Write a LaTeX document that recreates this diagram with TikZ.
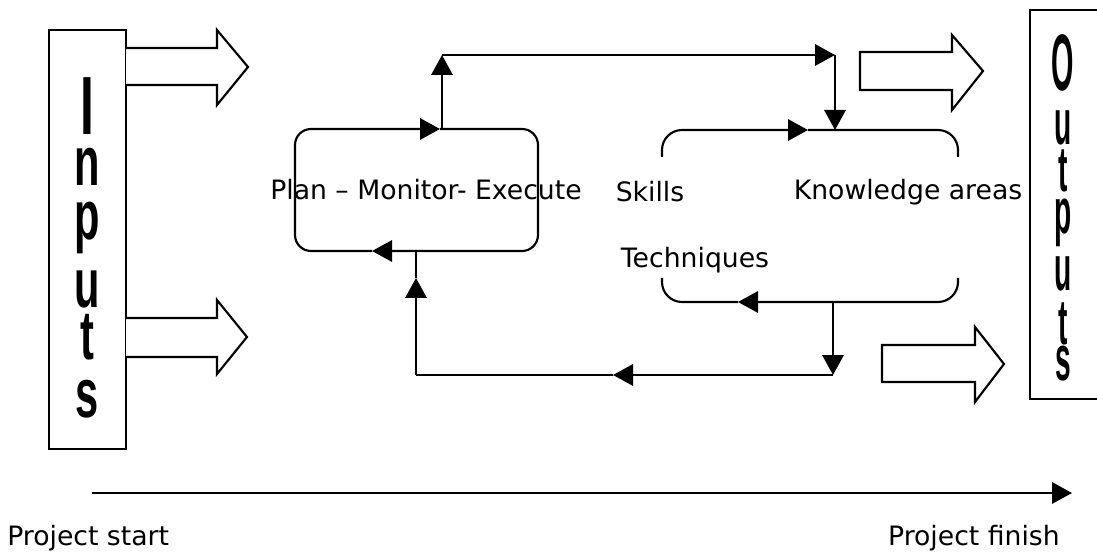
\documentclass[tikz,border=0pt]{standalone}
\usepackage{fontspec}
\setmainfont{DejaVu Sans}
\newfontfamily\stackfont{Liberation Sans}
\usetikzlibrary{arrows.meta}

\tikzset{
  conn/.style={line width=1.6pt, draw=black},
  tipped/.style={conn, -{Triangle[length=15pt,width=16pt]}},
  frame/.style={line width=1.6pt, draw=black},
  blockarrow/.style={line width=1.6pt, draw=black, fill=white, line join=miter},
  label/.style={font=\fontsize{20pt}{22pt}\selectfont, inner sep=0pt},
  column/.style={inner sep=0pt, outer sep=0pt, anchor=north},
}
% A word set letter below letter; \gap{d} puts the next baseline d lower.
\newcommand{\vword}[1]{\vbox{\baselineskip=0pt\lineskip=0pt\lineskiplimit=-\maxdimen
  \halign{\hfil##\hfil\cr#1\crcr}}}
\newcommand{\gap}[1]{\cr\noalign{\vskip#1}}
\newcommand{\nin}[1]{\scalebox{0.6}[1]{#1}}
\newcommand{\nout}[1]{\scalebox{0.44}[1]{#1}}

\begin{document}
\begin{tikzpicture}[x=0.75pt, y=-0.75pt]
\useasboundingbox (0,0) rectangle (1097,556);

% Input and output columns
\draw[frame] (49,30) rectangle (126,449);
\draw[frame] (1030,10) rectangle (1110,399);

\node[column, font=\stackfont\bfseries\fontsize{52pt}{0pt}\selectfont] (inputs) at (87,78)
  {\vword{{\fontsize{62pt}{0pt}\selectfont\nin{I}}\gap{38.25pt}\nin{n}\gap{40.5pt}\nin{p}\gap{51pt}\nin{u}\gap{39pt}\nin{t}\gap{43.5pt}\nin{s}}};

\node[column, font=\stackfont\bfseries\fontsize{48pt}{0pt}\selectfont] (outputs) at (1063,35)
  {\vword{{\fontsize{60pt}{0pt}\selectfont\scalebox{0.36}[1]{O}}\gap{40.5pt}\nout{u}\gap{35.25pt}\nout{t}\gap{31.5pt}\nout{p}\gap{42.75pt}\nout{u}\gap{40.5pt}\nout{t}\gap{27pt}\nout{s}}};

% Hollow block arrows
\draw[blockarrow] (126,48) -- (217,48) -- (217,30) -- (248,67) -- (217,105) -- (217,85) -- (126,85);
\draw[blockarrow] (126,318) -- (217,318) -- (217,300) -- (247,337) -- (217,374) -- (217,357) -- (126,357);
\draw[blockarrow] (860,52) -- (952,52) -- (952,35) -- (983,71) -- (952,110) -- (952,90) -- (860,90) -- cycle;
\draw[blockarrow] (882,345) -- (975,345) -- (975,327) -- (1004,364) -- (975,402) -- (975,382) -- (882,382) -- cycle;

% Text labels
\node[label] (pme) at (426,190) {Plan -- Monitor- Execute};
\node[label] (skills) at (650,192) {Skills};
\node[label] (know) at (908,192) {Knowledge areas};
\node[label] (tech) at (695,260) {Techniques};
\node[label, anchor=west] (start) at (7,538) {Project start};
\node[label, anchor=east] (finish) at (1060,538) {Project finish};

% Junction points
\coordinate (pTopTip) at (440,129);
\coordinate (pTopJ) at (442,129);
\coordinate (pBotTip) at (372,251);
\coordinate (pBotJ) at (416,251);
\coordinate (upCorner) at (442,55);
\coordinate (rCorner) at (835,55);
\coordinate (kTopJ) at (835,130);
\coordinate (kTopTip) at (808,130);
\coordinate (kBotTip) at (738,302);
\coordinate (kBotJ) at (833,302);
\coordinate (dCorner) at (833,375);
\coordinate (midTip) at (613,375);
\coordinate (lCorner) at (416,375);
\coordinate (upTip) at (416,278);
\coordinate (tStart) at (92,493);
\coordinate (tEnd) at (1072,493);

% Plan-monitor-execute cycle
\draw[tipped, rounded corners=12pt] (pTopTip) -- (538,129) -- (538,251) -- (pBotTip);
\draw[tipped, rounded corners=12pt] (pBotTip) -- (295,251) -- (295,129) -- (pTopTip);

% Skills / knowledge / techniques cycle (open sides)
\draw[tipped, rounded corners=15pt] (662,157) -- (662,130) -- (kTopTip);
\draw[conn, rounded corners=15pt] (kTopTip) -- (958,130) -- (958,157);
\draw[tipped, rounded corners=15pt] (958,278) -- (958,302) -- (kBotTip);
\draw[conn, rounded corners=15pt] (kBotTip) -- (662,302) -- (662,278);

% Links between the cycles
\draw[tipped] (pTopJ) -- (upCorner);
\draw[tipped] (upCorner) -- (rCorner);
\draw[tipped] (rCorner) -- (kTopJ);
\draw[tipped] (kBotJ) -- (dCorner);
\draw[tipped] (dCorner) -- (midTip);
\draw[conn] (midTip) -- (lCorner);
\draw[tipped] (lCorner) -- (upTip);
\draw[conn] (upTip) -- (pBotJ);

% Time line
\draw[conn, -{Triangle[length=15pt,width=16pt]}] (tStart) -- (tEnd);
\end{tikzpicture}
\end{document}
